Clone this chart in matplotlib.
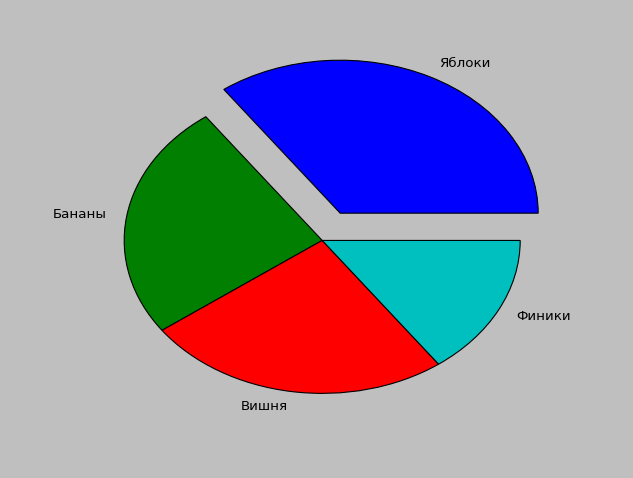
import matplotlib
matplotlib.use('Agg')
import matplotlib.pyplot as plt

# pie data
labels = ['Яблоки', 'Бананы', 'Вишня', 'Финики']
sizes = [35, 25, 25, 15]
colors = ['#0000ff', '#007f00', '#ff0000', '#00bfbf']
explode = [0.2, 0, 0, 0]

fig = plt.figure(figsize=(6.33, 4.78), dpi=100, facecolor='#bfbfbf')
ax = fig.add_axes([0.118, 0.097, 0.782, 0.80])
ax.set_facecolor('#bfbfbf')

ax.pie(sizes, labels=labels, colors=colors, explode=explode,
       startangle=0, labeldistance=1.1, frame=False,
       wedgeprops={'edgecolor': 'black', 'linewidth': 0.8},
       textprops={'fontsize': 9.6, 'color': 'black'})
ax.set_aspect('auto')
ax.set_xlim(-1.25, 1.25)
ax.set_ylim(-1.25, 1.25)
ax.axis('off')

plt.savefig('out.png', dpi=100, facecolor='#bfbfbf')
